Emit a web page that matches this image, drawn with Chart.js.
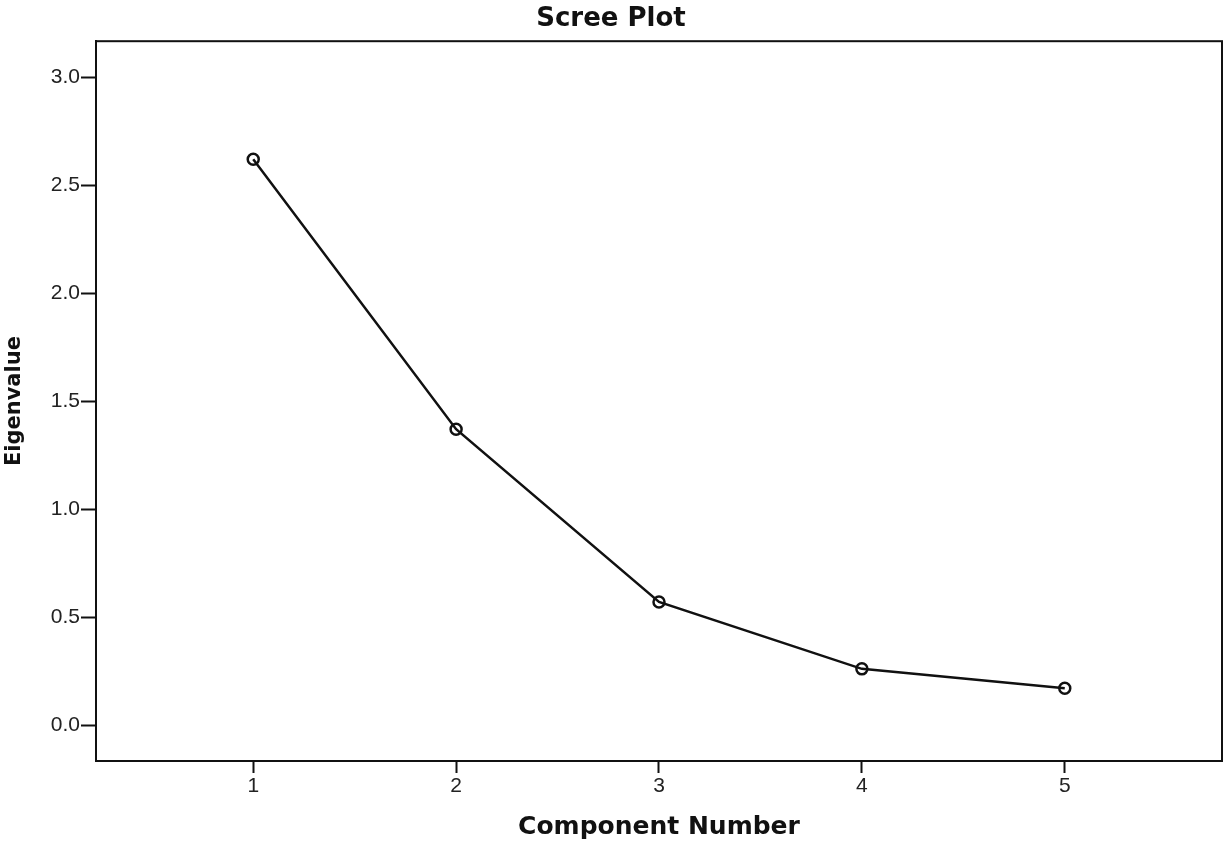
<!DOCTYPE html>
<html>
<head>
<meta charset="utf-8">
<script src="https://cdn.jsdelivr.net/npm/chart.js@4"></script>
<style>
  html, body { margin: 0; padding: 0; background: #fff; overflow: hidden; }
  #wrap { width: 1225px; height: 842px; }
</style>
</head>
<body>
<div id="wrap"><canvas id="chart"></canvas></div>
<script>
// component numbers and their eigenvalues
const components = [1, 2, 3, 4, 5];
const eigenvalues = [2.62, 1.37, 0.57, 0.26, 0.17];
const yTicks = [0.0, 0.5, 1.0, 1.5, 2.0, 2.5, 3.0];
const xTicks = [1, 2, 3, 4, 5];

const points = components.map((c, i) => ({ x: c, y: eigenvalues[i] }));

// draw the top and right edges so the plot area is a closed box
const frame = {
    id: 'frame',
    afterDraw(chart) {
        const a = chart.chartArea;
        const ctx = chart.ctx;
        ctx.save();
        ctx.strokeStyle = '#111';
        ctx.lineWidth = 2;
        ctx.strokeRect(a.left, a.top, a.right - a.left, a.bottom - a.top);
        ctx.restore();
    }
};

const tickFont = { family: 'Liberation Sans', size: 21 };

new Chart(document.getElementById('chart'), {
    type: 'scatter',
    data: {
        datasets: [{
            data: points,
            showLine: true,
            borderColor: '#111',
            borderWidth: 2.5,
            pointRadius: 5.5,
            pointBorderWidth: 2.5,
            pointBorderColor: '#111',
            pointBackgroundColor: 'rgba(0,0,0,0)',
            tension: 0
        }]
    },
    options: {
        responsive: true,
        maintainAspectRatio: false,
        animation: false,
        layout: { autoPadding: false, padding: { left: 0, right: 3, top: 0, bottom: 0 } },
        plugins: {
            legend: { display: false },
            tooltip: { enabled: false },
            title: {
                display: true,
                text: 'Scree Plot',
                color: '#111',
                font: { family: 'DejaVu Sans', size: 26, weight: 'bold' },
                padding: { top: 4, bottom: 6 }
            }
        },
        scales: {
            x: {
                type: 'linear',
                min: 0.225,
                max: 5.775,
                afterBuildTicks: (s) => { s.ticks = xTicks.map(v => ({ value: v })); },
                afterFit: (s) => { s.height = 81; },
                grid: { drawOnChartArea: false, color: '#111', tickLength: 12, tickWidth: 2 },
                border: { display: true, color: '#111', width: 2 },
                ticks: { color: '#222', font: tickFont, padding: 1, maxRotation: 0 },
                title: {
                    display: true,
                    text: 'Component Number',
                    color: '#111',
                    font: { family: 'DejaVu Sans', size: 25, weight: 'bold' },
                    padding: { top: 0, bottom: 0 }
                }
            },
            y: {
                min: -1 / 6,
                max: 19 / 6,
                afterBuildTicks: (s) => { s.ticks = yTicks.map(v => ({ value: v })); },
                afterFit: (s) => { s.width = 96; },
                grid: { drawOnChartArea: false, color: '#111', tickLength: 15, tickWidth: 2 },
                border: { display: true, color: '#111', width: 2 },
                ticks: {
                    color: '#222',
                    font: tickFont,
                    padding: 1,
                    callback: (v) => Number(v).toFixed(1)
                },
                title: {
                    display: true,
                    text: 'Eigenvalue',
                    color: '#111',
                    font: { family: 'DejaVu Sans', size: 21, weight: 'bold' },
                    padding: { top: 2, bottom: 0 }
                }
            }
        }
    },
    plugins: [frame]
});
</script>
</body>
</html>
